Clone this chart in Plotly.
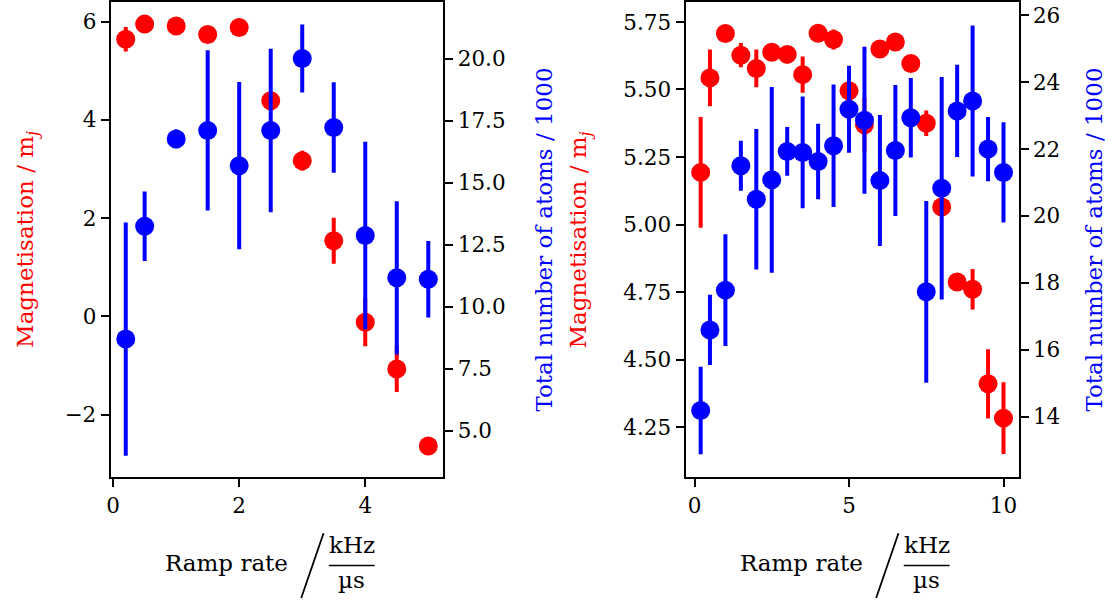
import plotly.graph_objects as go

# ---------------- data ----------------
left_x = [0.2, 0.5, 1.0, 1.5, 2.0, 2.5, 3.0, 3.5, 4.0, 4.5, 5.0]
left_mag = [5.64, 5.95, 5.91, 5.74, 5.88, 4.39, 3.17, 1.54, -0.12, -1.07, -2.64]
left_mag_err = [0.25, 0.04, 0.04, 0.04, 0.04, 0.04, 0.2, 0.47, 0.49, 0.47, 0.04]
left_atoms = [8.69, 13.24, 16.76, 17.10, 15.68, 17.10, 20.00, 17.22, 12.87, 11.16, 11.10]
left_atoms_err = [4.7, 1.4, 0.38, 3.23, 3.37, 3.3, 1.37, 1.82, 3.78, 3.09, 1.54]

right_x = [0.2, 0.5, 1.0, 1.5, 2.0, 2.5, 3.0, 3.5, 4.0, 4.5, 5.0,
           5.5, 6.0, 6.5, 7.0, 7.5, 8.0, 8.5, 9.0, 9.5, 10.0]
right_mag = [5.193, 5.543, 5.707, 5.627, 5.578, 5.638, 5.630, 5.555, 5.708, 5.685, 5.495,
             5.369, 5.650, 5.676, 5.596, 5.375, 5.065, 4.787, 4.760, 4.410, 4.283]
right_mag_err = [0.205, 0.105, 0.01, 0.045, 0.07, 0.01, 0.01, 0.067, 0.01, 0.037, 0.03,
                 0.1, 0.01, 0.01, 0.01, 0.047, 0.03, 0.01, 0.075, 0.128, 0.133]
right_atoms = [14.18, 16.59, 17.78, 21.5, 20.5, 21.08, 21.93, 21.9, 21.63, 22.1, 23.19,
               22.86, 21.06, 21.96, 22.94, 17.73, 20.83, 23.14, 23.44, 22.0, 21.3]
right_atoms_err = [1.31, 1.05, 1.67, 0.75, 2.1, 2.78, 0.73, 1.67, 1.13, 1.83, 1.3,
                   2.2, 1.96, 1.96, 1.19, 2.72, 3.33, 1.38, 2.26, 0.96, 1.5]

left_xticks = [0, 2, 4]
left_yticks = [-2, 0, 2, 4, 6]
left_y2ticks = [5.0, 7.5, 10.0, 12.5, 15.0, 17.5, 20.0]
right_xticks = [0, 5, 10]
right_yticks = [4.25, 4.50, 4.75, 5.00, 5.25, 5.50, 5.75]
right_y2ticks = [14, 16, 18, 20, 22, 24, 26]

RED = "#ff0000"
BLUE = "#0000ff"
FONT = "DejaVu Serif"
W, H = 1115, 605
MT, MB = 1, 128
PH = H - MT - MB


def trace(x, y, err, color, xa, ya):
    return go.Scatter(
        x=x, y=y, xaxis=xa, yaxis=ya, mode="markers",
        marker=dict(color=color, size=19, line=dict(width=0)),
        error_y=dict(type="data", array=err, visible=True, color=color,
                     thickness=4, width=0),
        showlegend=False, hoverinfo="skip",
    )


fig = go.Figure()
fig.add_trace(trace(left_x, left_mag, left_mag_err, RED, "x", "y"))
fig.add_trace(trace(left_x, left_atoms, left_atoms_err, BLUE, "x", "y2"))
fig.add_trace(trace(right_x, right_mag, right_mag_err, RED, "x2", "y3"))
fig.add_trace(trace(right_x, right_atoms, right_atoms_err, BLUE, "x2", "y4"))

tickfont = dict(family=FONT, size=21.5, color="black")
common = dict(showgrid=False, zeroline=False, showline=True, linecolor="black",
              linewidth=2, ticks="outside", ticklen=8, tickwidth=2,
              tickcolor="black", tickfont=tickfont)

dl = [107 / W, 441 / W]
dr = [684 / W, 1018.3 / W]

fig.update_layout(
    width=W, height=H,
    margin=dict(l=0, r=0, t=MT, b=MB),
    paper_bgcolor="white", plot_bgcolor="white",
    font=dict(family=FONT),
    xaxis=dict(domain=dl, range=[-0.04, 5.24], tickvals=left_xticks, mirror=True,
               anchor="y", **common),
    yaxis=dict(domain=[0, 1], range=[-3.27, 6.40], tickvals=left_yticks,
               anchor="x", side="left", **common),
    yaxis2=dict(range=[3.13, 22.28], tickvals=left_y2ticks, tickformat=".1f",
                overlaying="y", anchor="x", side="right", **common),
    xaxis2=dict(domain=dr, range=[-0.29, 10.49], tickvals=right_xticks, mirror=True,
                anchor="y3", **common),
    yaxis3=dict(domain=[0, 1], range=[4.065, 5.824], tickvals=right_yticks,
                tickformat=".2f", ticksuffix="\u00a0\u00a0", anchor="x2",
                side="left", **common),
    yaxis4=dict(range=[12.19, 26.40], tickvals=right_y2ticks,
                overlaying="y3", anchor="x2", side="right", **common),
)


def py(p):
    """pixel y -> paper y"""
    return (H - MB - p) / PH


LF = 23
ann = []
shapes = []
# y axis titles
for xc, txt, col in [
    (22.5, "Magnetisation / m<sub><i>j</i></sub>", RED),
    (541, "Total number of atoms / 1000", BLUE),
    (578, "Magnetisation / m<sub><i>j</i></sub>", RED),
    (1093, "Total number of atoms / 1000", BLUE),
]:
    ann.append(dict(x=xc / W, y=py(MT + PH / 2), xref="paper", yref="paper",
                    text=txt, textangle=-90, showarrow=False,
                    xanchor="center", yanchor="middle",
                    font=dict(family=FONT, size=LF, color=col)))

# x axis titles: "Ramp rate / (kHz / µs)"
for off in [0, 577]:
    ann.append(dict(x=(287 + off) / W, y=py(563.5), xref="paper", yref="paper",
                    text="Ramp rate", showarrow=False, xanchor="right",
                    yanchor="middle", font=dict(family=FONT, size=LF, color="black")))
    ann.append(dict(x=(349 + off) / W, y=py(545.5), xref="paper", yref="paper",
                    text="kHz", showarrow=False, xanchor="center",
                    yanchor="middle", font=dict(family=FONT, size=LF, color="black")))
    ann.append(dict(x=(349 + off) / W, y=py(580.5), xref="paper", yref="paper",
                    text="µs", showarrow=False, xanchor="center",
                    yanchor="middle", font=dict(family=FONT, size=LF, color="black")))
    shapes.append(dict(type="line", xref="paper", yref="paper",
                       x0=(298.3 + off) / W, y0=py(598.3),
                       x1=(320.7 + off) / W, y1=py(533.3),
                       line=dict(color="black", width=1.8)))
    shapes.append(dict(type="line", xref="paper", yref="paper",
                       x0=(326 + off) / W, y0=py(565.7),
                       x1=(372 + off) / W, y1=py(565.7),
                       line=dict(color="black", width=1.5)))

fig.update_layout(annotations=ann, shapes=shapes)
fig.write_html("out.html")
